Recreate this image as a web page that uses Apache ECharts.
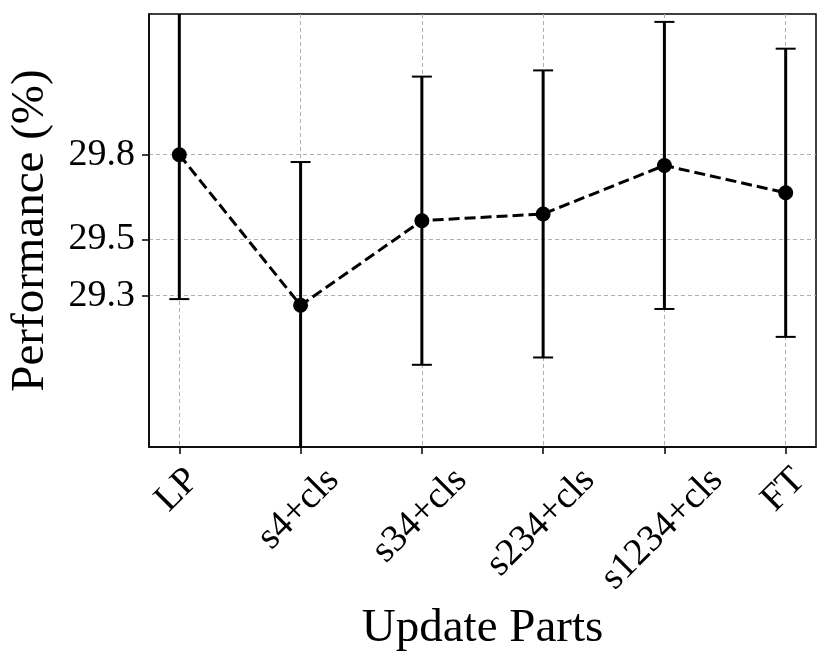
<!DOCTYPE html>
<html lang="en">
<head>
<meta charset="UTF-8">
<title>Update Parts</title>
<script src="https://cdn.jsdelivr.net/npm/echarts@6/dist/echarts.min.js"></script>
<style>html, body { margin: 0; padding: 0; background: #fff; }</style>
</head>
<body>
<div id="main" style="width: 830px; height: 667px;"></div>
<script>
// values
const categories = ['LP', 's4+cls', 's34+cls', 's234+cls', 's1234+cls', 'FT'];
const means = [29.800, 29.266, 29.566, 29.590, 29.762, 29.665];
const errs = [0.512, 0.508, 0.511, 0.509, 0.509, 0.511];
const yTicks = [29.3, 29.5, 29.8];
const xTicks = [0, 1, 2, 3, 4, 5];
const yRange = [28.7635, 30.299];
const xRange = [-0.25, 5.25];

const font = "'Liberation Serif', 'Times New Roman', serif";
const tickSize = 38;
const nameSize = 47;

// used to size the rotated x labels like matplotlib (ha=center, top aligned)
const ctx = document.createElement('canvas').getContext('2d');
ctx.font = tickSize + "px 'Liberation Serif'";

let chartDom = document.getElementById('main');
let myChart = echarts.init(chartDom);
let option;

option = {
	animation: false,
	grid: {
		left: 149, right: 14, top: 14, bottom: 220,
		outerBoundsMode: 'none', containLabel: false,
		show: true, borderColor: '#000', borderWidth: 1.5
	},
	xAxis: {
		type: 'value', min: xRange[0], max: xRange[1],
		axisLine: { show: true, onZero: false, lineStyle: { color: '#000', width: 1.5 } },
		axisTick: { show: true, length: 7, customValues: xTicks, lineStyle: { color: '#000', width: 1.5 } },
		axisLabel: { show: false, customValues: xTicks },
		splitLine: { show: true, lineStyle: { color: '#b0b0b0', type: [4, 3], width: 1 } },
		name: 'Update Parts', nameLocation: 'middle', nameGap: 158,
		nameTextStyle: { fontSize: nameSize, fontFamily: font, color: '#000' }
	},
	yAxis: {
		type: 'value', min: yRange[0], max: yRange[1],
		axisLine: { show: true, onZero: false, lineStyle: { color: '#000', width: 1.5 } },
		axisTick: { show: true, length: 7, customValues: yTicks, lineStyle: { color: '#000', width: 1.5 } },
		axisLabel: { customValues: yTicks, formatter: v => v.toFixed(1), fontSize: tickSize, fontFamily: font, color: '#000', margin: 14 },
		splitLine: { show: true, lineStyle: { color: '#b0b0b0', type: [4, 3], width: 1 } },
		name: 'Performance (%)', nameLocation: 'middle', nameGap: 95,
		nameTextStyle: { fontSize: nameSize, fontFamily: font, color: '#000' }
	},
	series: [
		{
			// error bars
			type: 'custom', clip: true, z: 3,
			data: means.map((m, i) => [i, m - errs[i], m + errs[i]]),
			encode: { x: 0, y: [1, 2] },
			renderItem (params, api) {
				const x = api.value(0);
				const lo = api.coord([x, api.value(1)]);
				const hi = api.coord([x, api.value(2)]);
				const cap = 10;
				return {
					type: 'group',
					children: [
						{ type: 'line', shape: { x1: hi[0], y1: hi[1], x2: lo[0], y2: lo[1] }, style: { stroke: '#000', lineWidth: 3 } },
						{ type: 'line', shape: { x1: hi[0] - cap, y1: hi[1], x2: hi[0] + cap, y2: hi[1] }, style: { stroke: '#000', lineWidth: 2 } },
						{ type: 'line', shape: { x1: lo[0] - cap, y1: lo[1], x2: lo[0] + cap, y2: lo[1] }, style: { stroke: '#000', lineWidth: 2 } }
					]
				};
			}
		},
		{
			type: 'line', z: 4,
			data: means.map((m, i) => [i, m]),
			symbol: 'circle', symbolSize: 15,
			itemStyle: { color: '#000' },
			lineStyle: { color: '#000', width: 3, type: [11, 5] }
		},
		{
			// rotated category labels under the x axis
			type: 'custom', clip: false, z: 5,
			data: xTicks.map(i => [i]),
			encode: { x: 0 },
			renderItem (params, api) {
				const i = api.value(0);
				const p = api.coord([i, yRange[0]]);
				const text = categories[i];
				const w = ctx.measureText(text).width;
				const half = (w + tickSize) * Math.SQRT1_2 / 2;
				return {
					type: 'text', x: p[0] - 2, y: p[1] + 14 + half, rotation: Math.PI / 4,
					style: { text: text, fill: '#000', fontSize: tickSize, fontFamily: font, align: 'center', verticalAlign: 'middle' }
				};
			}
		}
	]
};

option && myChart.setOption(option);
</script>
</body>
</html>
